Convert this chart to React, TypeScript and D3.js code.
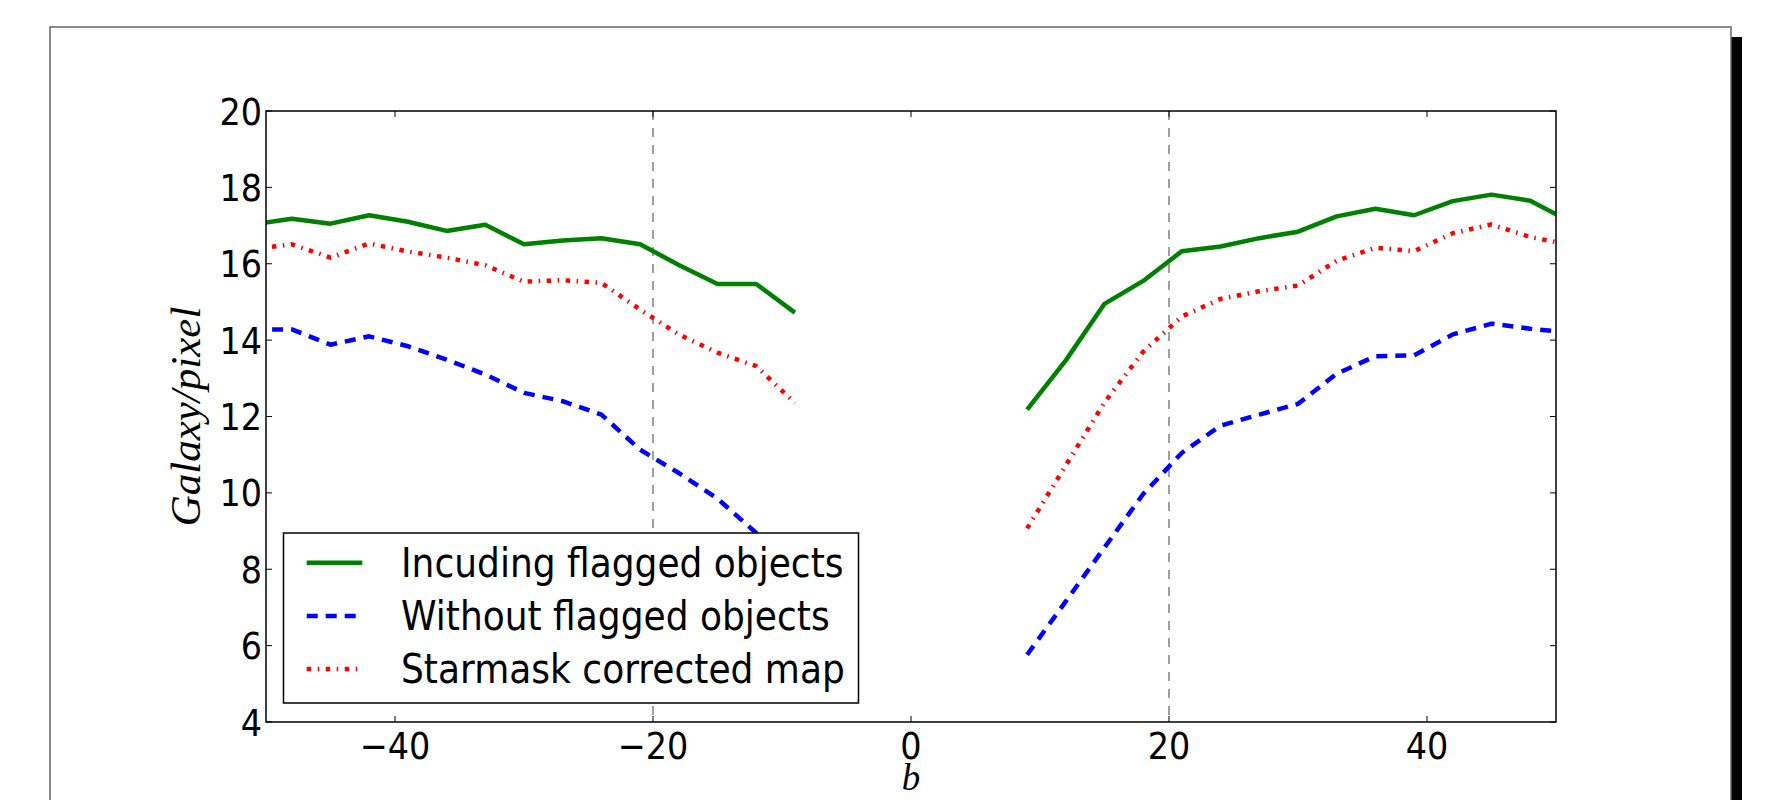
import React, { useEffect } from "react";
import * as d3 from "d3";

const W = 1772;
const H = 800;

const bLeft = [-51, -48, -45, -42, -39, -36, -33, -30, -27, -24, -21, -18, -15, -12, -9];
const bRight = [9, 12, 15, 18, 21, 24, 27, 30, 33, 36, 39, 42, 45, 48, 51];

const greenLeft = [17.03, 17.18, 17.05, 17.27, 17.1, 16.86, 17.02, 16.51, 16.61, 16.67, 16.51, 15.97, 15.47, 15.47, 14.72];
const greenRight = [12.18, 13.47, 14.95, 15.55, 16.33, 16.45, 16.67, 16.84, 17.24, 17.44, 17.27, 17.64, 17.81, 17.65, 17.12];

const blueLeft = [14.28, 14.28, 13.88, 14.1, 13.84, 13.49, 13.1, 12.62, 12.4, 12.05, 11.13, 10.52, 9.85, 8.95, 7.9];
const blueRight = [5.76, 7.16, 8.57, 9.97, 11.05, 11.76, 12.05, 12.33, 13.12, 13.58, 13.6, 14.15, 14.43, 14.3, 14.2];

const redLeft = [16.38, 16.51, 16.16, 16.53, 16.32, 16.16, 15.96, 15.53, 15.57, 15.5, 14.8, 14.15, 13.67, 13.32, 12.35];
const redRight = [9.07, 10.72, 12.37, 13.7, 14.62, 15.08, 15.28, 15.43, 16.08, 16.42, 16.33, 16.8, 17.03, 16.7, 16.5];

const xTicks = [-40, -20, 0, 20, 40];
const yTicks = [4, 6, 8, 10, 12, 14, 16, 18, 20];
const vLines = [-20, 20];

const seriesNames = ["Incuding flagged objects", "Without flagged objects", "Starmask corrected map"];
const seriesColors = ["#008000", "#0000ff", "#ff0000"];
const seriesDash = [null, "11,8", "4.5,6.5,1.5,6.5"];

export default function App() {
  useEffect(() => {
    document.body.style.margin = "0";
  }, []);

  const left = 266, right = 1556, top = 111, bottom = 722;
  const x = d3.scaleLinear().domain([-50, 50]).range([left, right]);
  const y = d3.scaleLinear().domain([4, 20]).range([bottom, top]);
  const line = d3
    .line<[number, number]>()
    .x((d) => x(d[0]))
    .y((d) => y(d[1]));

  const zip = (xs: number[], ys: number[]) => xs.map((v, i) => [v, ys[i]] as [number, number]);
  const series = [
    [zip(bLeft, greenLeft), zip(bRight, greenRight)],
    [zip(bLeft, blueLeft), zip(bRight, blueRight)],
    [zip(bLeft, redLeft), zip(bRight, redRight)],
  ];

  const tickLen = 6;
  const tickFont = 38;
  const sx = 0.88;
  const lw = 4.5;
  const legend = { x0: 283.5, y0: 533, x1: 858.5, y1: 703 };
  const legendRows = [562.7, 616, 669];

  return (
    <svg width={W} height={H} style={{ display: "block" }} xmlns="http://www.w3.org/2000/svg">
      <rect x={0} y={0} width={W} height={H} fill="#ffffff" />
      {/* page frame */}
      <rect x={1731} y={37} width={11} height={H - 37} fill="#000000" />
      <path d={`M50,${H + 2} L50,27 L1731,27 L1731,${H + 2}`} fill="none" stroke="#666666" strokeWidth={1.5} />

      <defs>
        <clipPath id="plotclip">
          <rect x={left} y={top} width={right - left} height={bottom - top} />
        </clipPath>
      </defs>

      {/* vertical dashed reference lines */}
      {vLines.map((v) => (
        <line
          key={v}
          x1={x(v)}
          x2={x(v)}
          y1={top}
          y2={bottom}
          stroke="#808080"
          strokeWidth={1.5}
          strokeDasharray="9,8"
        />
      ))}

      {/* data lines */}
      <g clipPath="url(#plotclip)">
        {series.map((segs, si) =>
          segs.map((seg, k) => (
            <path
              key={`${si}-${k}`}
              d={line(seg) || ""}
              fill="none"
              stroke={seriesColors[si]}
              strokeWidth={lw}
              strokeDasharray={seriesDash[si] || undefined}
              strokeLinejoin="round"
            />
          ))
        )}
      </g>

      {/* ticks */}
      {xTicks.map((t) => (
        <g key={`xt${t}`}>
          <line x1={x(t)} x2={x(t)} y1={bottom} y2={bottom - tickLen} stroke="#000" strokeWidth={1} />
          <line x1={x(t)} x2={x(t)} y1={top} y2={top + tickLen} stroke="#000" strokeWidth={1} />
          <text
            transform={`translate(${x(t)},759) scale(${sx},1)`}
            textAnchor="middle"
            fontFamily="DejaVu Sans"
            fontSize={tickFont}
            fill="#000"
          >
            {t < 0 ? `\u2212${Math.abs(t)}` : `${t}`}
          </text>
        </g>
      ))}
      {yTicks.map((t) => (
        <g key={`yt${t}`}>
          <line x1={left} x2={left + tickLen} y1={y(t)} y2={y(t)} stroke="#000" strokeWidth={1} />
          <line x1={right} x2={right - tickLen} y1={y(t)} y2={y(t)} stroke="#000" strokeWidth={1} />
          <text
            transform={`translate(262,${y(t) + 13.5}) scale(${sx},1)`}
            textAnchor="end"
            fontFamily="DejaVu Sans"
            fontSize={tickFont}
            fill="#000"
          >
            {t}
          </text>
        </g>
      ))}

      {/* axes frame */}
      <rect x={left} y={top} width={right - left} height={bottom - top} fill="none" stroke="#000" strokeWidth={1.5} />

      {/* axis labels */}
      <text
        x={(left + right) / 2}
        y={790}
        textAnchor="middle"
        fontFamily="Liberation Serif"
        fontStyle="italic"
        fontSize={37}
        fill="#000"
      >
        b
      </text>
      <text
        transform={`translate(200,${(top + bottom) / 2}) rotate(-90)`}
        textAnchor="middle"
        fontFamily="Liberation Serif"
        fontStyle="italic"
        fontSize={43}
        fill="#000"
      >
        Galaxy/pixel
      </text>

      {/* legend */}
      <rect
        x={legend.x0}
        y={legend.y0}
        width={legend.x1 - legend.x0}
        height={legend.y1 - legend.y0}
        fill="#ffffff"
        stroke="#000"
        strokeWidth={1.5}
      />
      {seriesNames.map((name, i) => (
        <g key={name}>
          <line
            x1={306.7}
            x2={362.3}
            y1={legendRows[i]}
            y2={legendRows[i]}
            stroke={seriesColors[i]}
            strokeWidth={lw}
            strokeDasharray={seriesDash[i] || undefined}
          />
          <text
            transform={`translate(401,${legendRows[i] + 14}) scale(0.9,1)`}
            fontFamily="DejaVu Sans"
            fontSize={40}
            fill="#000"
          >
            {name}
          </text>
        </g>
      ))}
    </svg>
  );
}
